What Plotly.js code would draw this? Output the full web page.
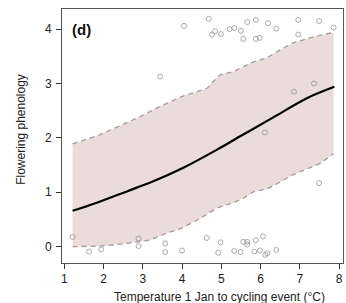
<!DOCTYPE html>
<html>
<head>
<meta charset="utf-8">
<script src="https://cdn.plot.ly/plotly-3.0.1.min.js"></script>
<style>html,body{margin:0;padding:0;background:#fff;}#chart{width:346px;height:303px;}</style>
</head>
<body>
<div id="chart"></div>
<script>
// Fitted curve
const fitX = [1.21, 1.79, 2.64, 3.19, 3.49, 4.03, 4.88, 5.48, 5.73, 6.33, 7.18, 7.88];
const fitY = [0.66, 0.80, 1.03, 1.18, 1.27, 1.45, 1.78, 2.03, 2.13, 2.38, 2.73, 2.94];

// Upper band
const upX = [1.21, 1.91, 2.93, 3.44, 3.99, 4.63, 4.88, 4.97, 5.31, 5.82, 6.16, 6.50, 6.84, 7.35, 7.86];
const upY = [1.89, 2.06, 2.39, 2.58, 2.76, 2.91, 3.10, 3.16, 3.22, 3.40, 3.47, 3.62, 3.75, 3.86, 3.94];

// Lower band
const loX = [1.21, 1.91, 2.59, 3.18, 3.61, 3.99, 4.46, 4.88, 5.31, 5.56, 5.82, 6.16, 6.58, 6.75, 7.01, 7.52, 7.86];
const loY = [0.00, 0.01, 0.06, 0.12, 0.25, 0.34, 0.52, 0.71, 0.81, 0.89, 1.01, 1.06, 1.22, 1.30, 1.38, 1.53, 1.71];

// Observations (jittered)
const obsX = [4.05, 3.44, 4.68, 4.76, 4.84, 4.99, 5.21, 5.33, 5.50, 5.56, 5.66, 5.88, 5.88, 5.98, 6.19, 6.40, 6.96, 6.96, 7.49, 7.86,
              6.85, 7.36, 6.11, 7.49,
              1.21, 1.63, 1.94, 2.89, 2.89, 3.57, 3.57, 4.00, 4.63, 4.92, 4.98, 5.33, 5.49, 5.56, 5.66, 5.66, 5.88, 5.84, 5.98, 6.06, 6.12, 6.17, 6.40];
const obsY = [4.06, 3.13, 4.19, 3.90, 3.96, 3.91, 4.00, 4.02, 3.97, 3.82, 4.13, 4.17, 3.82, 3.84, 4.11, 4.01, 4.17, 3.90, 4.15, 4.03,
              2.85, 3.00, 2.10, 1.17,
              0.18, -0.09, -0.05, 0.15, 0.01, 0.06, -0.10, -0.07, 0.16, -0.11, 0.08, -0.08, -0.10, 0.09, 0.09, 0.04, 0.12, -0.09, -0.07, 0.19, -0.15, -0.12, -0.06];

const xTicks = [1, 2, 3, 4, 5, 6, 7, 8];
const yTicks = [0, 1, 2, 3, 4];

const FONT = "Liberation Sans, Arial, sans-serif";
const fillCol = "rgb(235,219,219)";
const dashCol = "rgb(165,155,155)";

const traces = [
  {x: upX.concat(loX.slice().reverse()), y: upY.concat(loY.slice().reverse()), type: "scatter", mode: "lines",
   fill: "toself", fillcolor: fillCol, line: {width: 0}, hoverinfo: "skip", showlegend: false},
  {x: upX, y: upY, type: "scatter", mode: "lines", line: {color: dashCol, width: 1.3, dash: "5px,4px"}, showlegend: false},
  {x: loX, y: loY, type: "scatter", mode: "lines", line: {color: dashCol, width: 1.3, dash: "5px,4px"}, showlegend: false},
  {x: fitX, y: fitY, type: "scatter", mode: "lines", line: {color: "#000", width: 2.2, shape: "spline", smoothing: 1}, showlegend: false},
  {x: obsX, y: obsY, type: "scatter", mode: "markers",
   marker: {symbol: "circle-open", size: 5, color: "rgb(150,150,150)", line: {width: 0.8, color: "rgb(150,150,150)"}}, showlegend: false}
];

const axisCommon = {
  showgrid: false, zeroline: false, showline: true, mirror: true,
  linecolor: "#555", linewidth: 1, ticks: "outside", ticklen: 5, tickwidth: 1, tickcolor: "#333",
  tickfont: {family: FONT, size: 12, color: "#222"}
};

const layout = {
  width: 346, height: 303,
  margin: {l: 62, r: 3, t: 9, b: 40, pad: 0},
  paper_bgcolor: "#fff", plot_bgcolor: "#fff",
  font: {family: FONT},
  xaxis: Object.assign({}, axisCommon, {range: [0.94, 8.10], tickmode: "array", tickvals: xTicks, ticktext: xTicks.map(String)}),
  yaxis: Object.assign({}, axisCommon, {range: [-0.30, 4.37], tickmode: "array", tickvals: yTicks, ticktext: yTicks.map(String), ticklabelstandoff: 2}),
  annotations: [
    {text: "<b>(d)</b>", xref: "paper", yref: "paper", x: 0.0285, y: 0.921, xanchor: "left", yanchor: "middle",
     showarrow: false, font: {family: FONT, size: 15, color: "#111"}},
    {text: "Temperature 1 Jan to cycling event (°C)", xref: "paper", yref: "paper", x: 0.5605, y: -0.134,
     xanchor: "center", yanchor: "middle", showarrow: false, font: {family: FONT, size: 12, color: "#222"}},
    {text: "Flowering phenology", xref: "paper", yref: "paper", x: -0.146, y: 0.528, textangle: -90,
     xanchor: "center", yanchor: "middle", showarrow: false, font: {family: FONT, size: 12, color: "#222"}}
  ]
};

Plotly.newPlot("chart", traces, layout, {displayModeBar: false, staticPlot: true});
</script>
</body>
</html>
